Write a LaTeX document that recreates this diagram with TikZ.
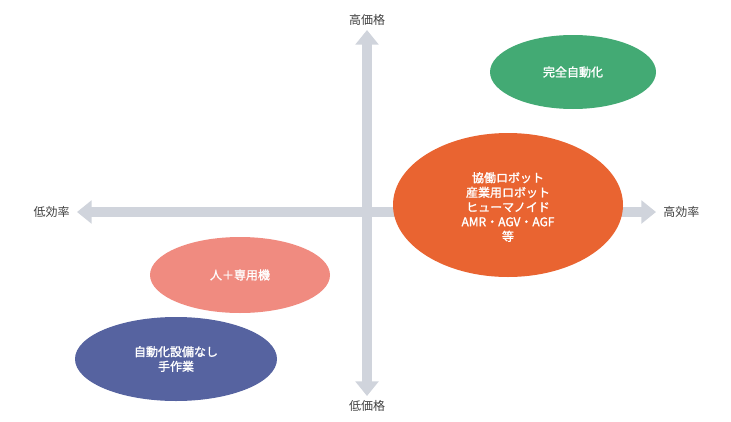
\documentclass[tikz,border=0pt]{standalone}
\usepackage{fontspec}
\setmainfont{Noto Sans CJK JP}
\newfontfamily\jpbold[FakeBold=1.5]{Noto Sans CJK JP}
\usetikzlibrary{arrows.meta,positioning,shapes.geometric}
\definecolor{axisgray}{HTML}{D0D4DC}
\definecolor{fullgreen}{HTML}{43AA74}
\definecolor{robotorange}{HTML}{E96431}
\definecolor{humanpink}{HTML}{F08B80}
\definecolor{manualblue}{HTML}{5663A0}

\begin{document}
\begin{tikzpicture}
      [x=0.75pt, y=-0.75pt, font=\small,
      % STYLES
      % The axis style is used for the two thick gray arrows
      axis/.style={line width=7.5pt, draw=axisgray, -{Triangle[width=17pt,length=11pt]}},
      % The label style is used for the ends of the axes
      axislabel/.style={text=black!75, font=\small},
      % The blob style is used for the filled ellipses
      blob/.style={inner sep=0pt, text=white, align=center, font=\jpbold\small}]

      \useasboundingbox (0,0) rectangle (731,421);

      % Axes
      \coordinate (center) at (367,212);
      \coordinate (top) at (367,30);
      \coordinate (bottom) at (367,396);
      \coordinate (left) at (77,212);
      \coordinate (right) at (656,212);
      \draw[axis] (center) -- (top);
      \draw[axis] (center) -- (bottom);
      \draw[axis] (center) -- (left);
      \draw[axis] (center) -- (right);

      \node [axislabel, above=0pt of top] (highPrice) {高価格};
      \node [axislabel, below=0pt of bottom] (lowPrice) {低価格};
      \node [axislabel, left=2pt of left] (lowEff) {低効率};
      \node [axislabel, right=2pt of right] (highEff) {高効率};

      %%%%%%%%%%%%%%%
      % Groups
      \fill[fullgreen] (573,72) ellipse [x radius=83, y radius=37];
      \node [blob] (fullAuto) at (573,72) {完全自動化};
      \fill[robotorange] (508,205) ellipse [x radius=115, y radius=72];
      \node [blob] (robots) at (508,207) {協働ロボット\\産業用ロボット\\ヒューマノイド\\AMR・AGV・AGF\\等};
      \fill[humanpink] (240,275) ellipse [x radius=90, y radius=38];
      \node [blob] (humanMachine) at (240,275) {人＋専用機};
      \fill[manualblue] (176,359) ellipse [x radius=101, y radius=42];
      \node [blob] (manual) at (176,359) {自動化設備なし\\手作業};

    \end{tikzpicture}
\end{document}
